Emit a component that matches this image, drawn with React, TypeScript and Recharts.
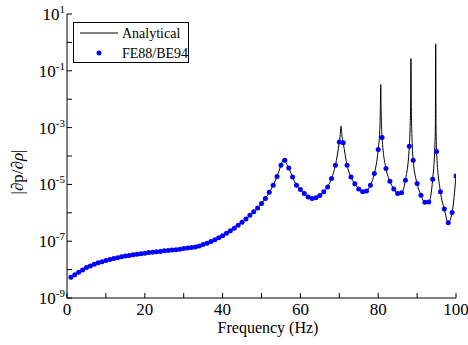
import { ComposedChart, Line, Scatter, XAxis, YAxis, Legend } from 'recharts';

// FE88/BE94 samples, 1 Hz steps (log10 of |dp/drho|)
const dotFreq = [
  1, 2, 3, 4, 5, 6, 7, 8, 9, 10, 11, 12, 13, 14, 15, 16, 17, 18, 19, 20,
  21, 22, 23, 24, 25, 26, 27, 28, 29, 30, 31, 32, 33, 34, 35, 36, 37, 38, 39, 40,
  41, 42, 43, 44, 45, 46, 47, 48, 49, 50, 51, 52, 53, 54, 55, 56, 57, 58, 59, 60,
  61, 62, 63, 64, 65, 66, 67, 68, 69, 70, 71, 72, 73, 74, 75, 76, 77, 78, 79, 80,
  81, 82, 83, 84, 85, 86, 87, 88, 89, 90, 91, 92, 93, 94, 95, 96, 97, 98, 99, 100,
];
const dotExp = [
  -8.27, -8.18, -8.09, -8.01, -7.93, -7.87, -7.81, -7.76, -7.72, -7.68,
  -7.64, -7.61, -7.58, -7.55, -7.52, -7.5, -7.48, -7.46, -7.44, -7.42,
  -7.4, -7.39, -7.37, -7.36, -7.34, -7.33, -7.31, -7.3, -7.28, -7.26,
  -7.24, -7.22, -7.2, -7.17, -7.12, -7.07, -7.01, -6.95, -6.88, -6.81,
  -6.72, -6.63, -6.54, -6.44, -6.33, -6.22, -6.09, -5.96, -5.83, -5.67,
  -5.5, -5.28, -5.03, -4.72, -4.33, -4.15, -4.42, -4.74, -5.03, -5.18,
  -5.32, -5.44, -5.5, -5.47, -5.39, -5.26, -5.09, -4.79, -4.33, -3.51,
  -3.53, -4.33, -4.74, -4.98, -5.16, -5.26, -5.23, -5.03, -4.62, -3.77,
  -3.35, -4.44, -4.89, -5.16, -5.32, -5.29, -4.85, -3.66, -4.15, -4.97,
  -5.38, -5.63, -5.62, -4.82, -3.84, -5.26, -5.87, -6.35, -5.99, -4.7,
];

// extra analytical points around the resonance peaks
const peakFreq = [55.8, 70.2, 70.45, 70.7, 80.4, 80.55, 80.65, 80.75, 80.9, 88.2, 88.33, 88.42, 88.52, 88.7, 94.6, 94.7, 94.78, 94.86, 94.93];
const peakExp = [-4.08, -3.3, -2.95, -3.3, -3.1, -2.4, -1.48, -2.4, -3.1, -3.0, -2.3, -0.57, -2.3, -3.4, -3.5, -2.9, -0.05, -2.9, -3.4];

const xTicks = [0, 10, 20, 30, 40, 50, 60, 70, 80, 90, 100];
const yTicks = [1e-9, 1e-8, 1e-7, 1e-6, 1e-5, 1e-4, 1e-3, 1e-2, 1e-1, 1, 10];

const dots = dotFreq.map((f, i) => ({ f, v: Math.pow(10, dotExp[i]) }));
const analytical = [
  ...dots,
  ...peakFreq.map((f, i) => ({ f, v: Math.pow(10, peakExp[i]) })),
].sort((a, b) => a.f - b.f);

const FONT = "'Liberation Serif', 'DejaVu Serif', Times, serif";
const txt = (size: number) => ({ fontFamily: FONT, fontSize: size });

const XTick = ({ x, y, payload }: any) =>
  payload.value % 20 === 0 ? (
    <text x={x} y={y} dy='0.71em' textAnchor='middle' style={txt(17)} fill='#000'>
      {payload.value}
    </text>
  ) : (
    <g />
  );

const YTick = ({ x, y, payload }: any) => {
  const e = Math.round(Math.log10(payload.value));
  if (e % 2 === 0) return <g />;
  return (
    <text x={x} y={y} dy='0.35em' textAnchor='end' style={txt(17)} fill='#000'>
      10
      <tspan dy={-7} style={txt(11)}>{e}</tspan>
    </text>
  );
};

const Blank = () => <g />;

const LegendBox = () => (
  <div style={{ border: '1px solid #000', background: '#fff', width: 116, height: 41, boxSizing: 'border-box' }}>
    <svg width={114} height={39} style={{ display: 'block', overflow: 'visible' }}>
      <line x1={6} x2={44} y1={10} y2={10} stroke='#000' strokeWidth={1} />
      <text x={48} y={15} style={txt(14)}>Analytical</text>
      <circle cx={25} cy={30} r={2.5} fill='#0000ff' />
      <text x={48} y={35} style={txt(14)}>FE88/BE94</text>
    </svg>
  </div>
);

export default function App() {
  return (
    <div style={{ position: 'absolute', left: 0, top: 0, background: '#fff' }}>
      <ComposedChart width={468} height={345} margin={{ top: 14, right: 12, bottom: 0, left: 0 }}>
        <XAxis
          dataKey='f'
          type='number'
          domain={[0, 100]}
          ticks={xTicks}
          height={47}
          tickSize={-5}
          tickMargin={10}
          tick={<XTick />}
          stroke='#000'
          allowDataOverflow
          label={{
            content: () => (
              <text x={268} y={333} textAnchor='middle' style={txt(16)} fill='#000'>
                Frequency (Hz)
              </text>
            ),
          }}
        />
        <XAxis xAxisId='top' orientation='top' type='number' domain={[0, 100]} ticks={xTicks} height={0} tickSize={-5} tick={Blank} stroke='#000' allowDataOverflow />
        <YAxis
          dataKey='v'
          type='number'
          scale='log'
          domain={[1e-9, 10]}
          ticks={yTicks}
          width={67}
          tickSize={-5}
          tickMargin={7}
          tick={<YTick />}
          stroke='#000'
          allowDataOverflow
          label={{
            content: () => (
              <text x={23} y={172} transform='rotate(-90 23 172)' textAnchor='middle' style={txt(17)} fill='#000'>
                |∂p/∂<tspan fontStyle='italic'>ρ</tspan>|
              </text>
            ),
          }}
        />
        <YAxis yAxisId='right' orientation='right' type='number' scale='log' domain={[1e-9, 10]} ticks={yTicks} width={0} tickSize={-5} tick={Blank} stroke='#000' allowDataOverflow />
        <Line
          data={analytical}
          dataKey='v'
          type='monotone'
          stroke='#000'
          strokeWidth={1}
          dot={false}
          isAnimationActive={false}
        />
        <Scatter data={dots} dataKey='v' fill='#0000ff' shape={(p: any) => <circle cx={p.cx} cy={p.cy} r={2.5} fill='#0000ff' />} isAnimationActive={false} />
        <Legend
          layout='vertical'
          align='center'
          verticalAlign='middle'
          content={<LegendBox />}
          wrapperStyle={{ left: 73, top: 22, width: 116, height: 41 }}
        />
      </ComposedChart>
    </div>
  );
}
